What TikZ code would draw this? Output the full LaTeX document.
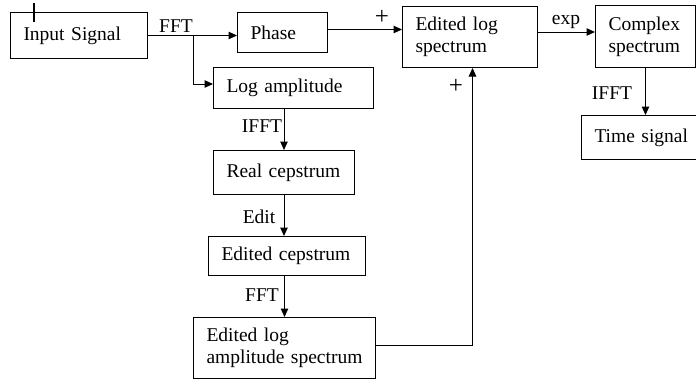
\documentclass[tikz,border=0pt]{standalone}
\usepackage{fontspec}
\setmainfont{Liberation Serif}
\usetikzlibrary{arrows.meta}
\begin{document}
\begin{tikzpicture}[x=1pt,y=-1pt,
  box/.style={draw, line width=1pt, rectangle, anchor=north west, inner xsep=13pt, inner ysep=0pt, align=left, font=\fontsize{19.5}{22}\selectfont},
  arr/.style={line width=1pt, -{Triangle[length=8.5pt,width=7.5pt]}},
  lbl/.style={font=\fontsize{19.5}{22}\selectfont, anchor=base, inner sep=0pt},
  plus/.style={font=\fontsize{25}{28}\selectfont, anchor=center, inner sep=0pt}]
\useasboundingbox (0,0) rectangle (696,380);
\clip (0,0) rectangle (696,380);
\node[box, text width=111pt, minimum height=46pt] (in) at (10,12) {Input Signal};
\node[box, text width=64pt, minimum height=40pt] (phase) at (237,12) {Phase};
\node[box, text width=134pt, minimum height=41pt] (logamp) at (213,67) {Log amplitude};
\node[box, text width=115pt, minimum height=44pt] (real) at (213,150) {Real cepstrum};
\node[box, text width=131pt, minimum height=39pt] (edcep) at (208,236) {Edited cepstrum};
\node[box, text width=156pt, minimum height=61pt] (edlas) at (193,317) {Edited log\\amplitude spectrum};
\node[box, text width=109pt, minimum height=61pt] (edls) at (402,6) {Edited log\\spectrum};
\node[box, text width=74pt, minimum height=62pt] (cplx) at (595,5) {Complex\\spectrum};
\node[box, text width=94pt, minimum height=44pt] (time) at (581,115) {Time signal};
\coordinate (br) at (193,35);
\coordinate (tka) at (34,3);
\coordinate (tkb) at (34,22);
\draw[line width=1.2pt] (tka) -- (tkb);
\draw[arr] (in.east) -- (in.east -| phase.west);
\draw[arr] (br) |- ([yshift=4pt]logamp.west);
\draw[arr] ([yshift=3pt]phase.east) -- ([yshift=3pt]phase.east -| edls.west);
\draw[arr] ([yshift=5pt]edls.east) -- ([yshift=5pt]edls.east -| cplx.west);
\draw[arr] (cplx.south) -- (cplx.south |- time.north);
\draw[arr] (logamp.south -| real.north) -- (real.north);
\draw[arr] (real.south) -- (real.south |- edcep.north);
\draw[arr] (edcep.south -| edlas.north) -- (edlas.north);
\draw[arr] ([yshift=3pt]edlas.east) -| ([xshift=2.5pt]edls.south);
\node[lbl] (l1) at (176,32) {FFT};
\node[plus] (l2) at (382,17) {+};
\node[plus] (l3) at (456,86) {+};
\node[lbl] (l4) at (566,24) {exp};
\node[lbl] (l5) at (612,99) {IFFT};
\node[lbl] (l6) at (262,132) {IFFT};
\node[lbl] (l7) at (259,223) {Edit};
\node[lbl] (l8) at (262,301) {FFT};
\end{tikzpicture}
\end{document}
